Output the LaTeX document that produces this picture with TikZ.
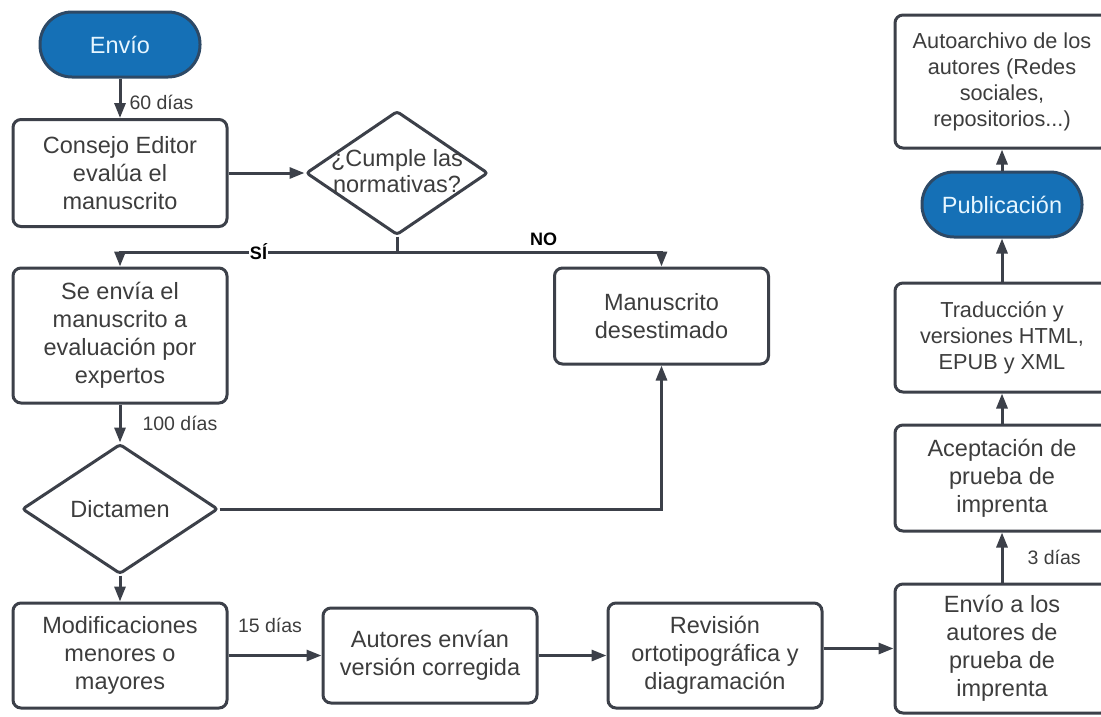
\documentclass[tikz,border=0pt]{standalone}
\usepackage{fontspec}
\setmainfont{Liberation Sans}
\usetikzlibrary{shapes.geometric,arrows.meta}
\definecolor{linegray}{HTML}{3C4049}
\definecolor{textgray}{HTML}{3D3D3D}
\definecolor{pillblue}{HTML}{1570B6}
\definecolor{pillrim}{HTML}{2D4966}
\definecolor{pilltext}{HTML}{E6F6FF}
\tikzset{
  box/.style={draw=linegray, line width=3pt, rounded corners=8pt, fill=white,
    text=textgray, align=center, inner sep=0pt, minimum width=214pt,
    font=\fontsize{23.5}{28}\selectfont},
  smalltext/.style={font=\fontsize{21.7}{26}\selectfont},
  pill/.style={draw=pillrim, line width=3pt, rounded corners=32pt, fill=pillblue,
    text=pilltext, minimum width=160pt, minimum height=65pt, inner sep=0pt,
    font=\fontsize{23.5}{28}\selectfont},
  decision/.style={diamond, draw=linegray, line width=3pt, rounded corners=3pt,
    fill=white, inner sep=0pt, text=textgray, font=\fontsize{23.5}{28}\selectfont},
  arr/.style={draw=linegray, line width=3pt, -{Triangle[length=15pt,width=11pt]}},
  lbl/.style={text=textgray, font=\fontsize{19.5}{22}\selectfont, inner sep=2pt},
  yesno/.style={text=black, font=\bfseries\fontsize{18}{20}\selectfont, inner sep=1pt},
}
\begin{document}
\begin{tikzpicture}[x=1pt,y=-1pt]
  \useasboundingbox (0,0) rectangle (1101,716);
  % left column
  \node[pill] (envio) at (120,44.5) {Envío};
  \node[box, minimum height=107pt] (consejo) at (120,173) {Consejo Editor\\evalúa el\\manuscrito};
  \node[box, minimum height=135pt] (envia) at (120,335.5) {Se envía el\\manuscrito a\\evaluación por\\expertos};
  \node[decision, minimum width=196pt, minimum height=130pt] (dictamen) at (120,509) {Dictamen};
  \node[box, minimum height=105pt] (modif) at (120,655.5) {Modificaciones\\menores o\\mayores};
  % decision on the rules
  \node[decision, minimum width=182pt, minimum height=124pt] (cumple) at (397,173) {};
  \node[text=textgray, align=center, inner sep=0pt, font=\fontsize{23.5}{26}\selectfont] (cumpletxt) at (397,171) {¿Cumple las\\normativas?};
  \coordinate (split) at (397,252);
  \node[box, minimum height=96pt] (desestimado) at (661.5,316) {Manuscrito\\desestimado};
  % bottom row
  \node[box, minimum height=95pt] (autores) at (430,655.5) {Autores envían\\versión corregida};
  \node[box, minimum height=105pt] (revision) at (715,655.5) {Revisión\\ortotipográfica y\\diagramación};
  % right column
  \node[box, minimum height=129pt] (envioaut) at (1002,648.5) {Envío a los\\autores de\\prueba de\\imprenta};
  \node[box, minimum height=106pt] (aceptacion) at (1002,478) {Aceptación de\\prueba de\\imprenta};
  \node[box, smalltext, minimum height=109pt] (traduccion) at (1002,337.5) {Traducción y\\versiones HTML,\\EPUB y XML};
  \node[pill] (publicacion) at (1002,204.5) {Publicación};
  \node[box, smalltext, minimum height=133pt] (autoarchivo) at (1002,81.5) {Autoarchivo de los\\autores (Redes\\sociales,\\repositorios...)};

  \draw[arr] (envio) -- node[lbl, right, pos=.6, xshift=6pt] {60 días} (consejo);
  \draw[arr] (consejo) -- (cumple);
  \draw[line width=3pt, draw=linegray] (cumple.south) -- (split);
  \draw[arr] (split) -| node[yesno, pos=.25, fill=white] {SÍ} (envia.north);
  \draw[arr] (split) -| node[yesno, pos=.277, above, yshift=4pt] {NO} (desestimado.north);
  \draw[arr] (envia) -- node[lbl, right, xshift=19pt] {100 días} (dictamen);
  \draw[arr] (dictamen.east) -| (desestimado.south);
  \draw[arr] (dictamen) -- (modif);
  \draw[arr] (modif) -- node[lbl, above, xshift=-5pt, yshift=19pt] {15 días} (autores);
  \draw[arr] (autores) -- (revision);
  \draw[arr] (revision.east |- envioaut.west) -- (envioaut.west);
  \draw[arr] (envioaut) -- node[lbl, right, xshift=22pt] {3 días} (aceptacion);
  \draw[arr] (aceptacion) -- (traduccion);
  \draw[arr] (traduccion) -- (publicacion);
  \draw[arr] (publicacion) -- (autoarchivo);
\end{tikzpicture}
\end{document}
